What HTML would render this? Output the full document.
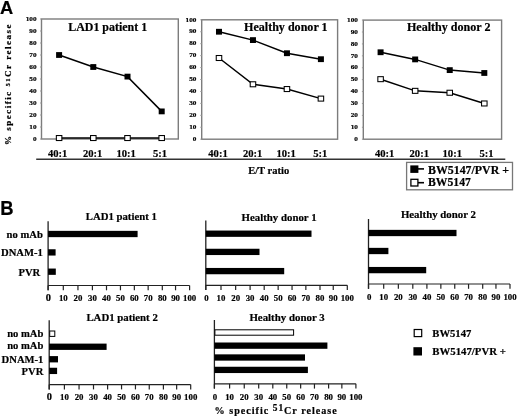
<!DOCTYPE html>
<html><head><meta charset="utf-8"><style>
html,body{margin:0;padding:0;background:#fff;}
svg{display:block;filter:blur(0.35px);}
text{font-family:"Liberation Serif",serif;font-weight:bold;fill:#000;stroke:#000;stroke-width:0.2px;}
.sans{font-family:"Liberation Sans",sans-serif;}
</style></head><body>
<svg width="520" height="417" viewBox="0 0 520 417">
<rect width="520" height="417" fill="#fff"/>
<text x="0.0" y="13.6" class="sans" font-size="19" textLength="13.2" lengthAdjust="spacingAndGlyphs">A</text>
<rect x="41.5" y="19.0" width="136.8" height="120.0" fill="none" stroke="#7c7c7c" stroke-width="1.4"/>
<line x1="40.1" y1="139.0" x2="41.5" y2="139.0" stroke="#999" stroke-width="1"/>
<text x="36.6" y="140.7" font-size="7.0" text-anchor="end" textLength="3.62" lengthAdjust="spacingAndGlyphs">0</text>
<line x1="40.1" y1="127.0" x2="41.5" y2="127.0" stroke="#999" stroke-width="1"/>
<text x="36.6" y="128.7" font-size="7.0" text-anchor="end" textLength="7.24" lengthAdjust="spacingAndGlyphs">10</text>
<line x1="40.1" y1="115.0" x2="41.5" y2="115.0" stroke="#999" stroke-width="1"/>
<text x="36.6" y="116.7" font-size="7.0" text-anchor="end" textLength="7.24" lengthAdjust="spacingAndGlyphs">20</text>
<line x1="40.1" y1="103.0" x2="41.5" y2="103.0" stroke="#999" stroke-width="1"/>
<text x="36.6" y="104.7" font-size="7.0" text-anchor="end" textLength="7.24" lengthAdjust="spacingAndGlyphs">30</text>
<line x1="40.1" y1="91.0" x2="41.5" y2="91.0" stroke="#999" stroke-width="1"/>
<text x="36.6" y="92.7" font-size="7.0" text-anchor="end" textLength="7.24" lengthAdjust="spacingAndGlyphs">40</text>
<line x1="40.1" y1="79.0" x2="41.5" y2="79.0" stroke="#999" stroke-width="1"/>
<text x="36.6" y="80.7" font-size="7.0" text-anchor="end" textLength="7.24" lengthAdjust="spacingAndGlyphs">50</text>
<line x1="40.1" y1="67.0" x2="41.5" y2="67.0" stroke="#999" stroke-width="1"/>
<text x="36.6" y="68.7" font-size="7.0" text-anchor="end" textLength="7.24" lengthAdjust="spacingAndGlyphs">60</text>
<line x1="40.1" y1="55.0" x2="41.5" y2="55.0" stroke="#999" stroke-width="1"/>
<text x="36.6" y="56.7" font-size="7.0" text-anchor="end" textLength="7.24" lengthAdjust="spacingAndGlyphs">70</text>
<line x1="40.1" y1="43.0" x2="41.5" y2="43.0" stroke="#999" stroke-width="1"/>
<text x="36.6" y="44.7" font-size="7.0" text-anchor="end" textLength="7.24" lengthAdjust="spacingAndGlyphs">80</text>
<line x1="40.1" y1="31.0" x2="41.5" y2="31.0" stroke="#999" stroke-width="1"/>
<text x="36.6" y="32.7" font-size="7.0" text-anchor="end" textLength="7.24" lengthAdjust="spacingAndGlyphs">90</text>
<line x1="40.1" y1="19.0" x2="41.5" y2="19.0" stroke="#999" stroke-width="1"/>
<text x="36.6" y="20.7" font-size="7.0" text-anchor="end" textLength="10.86" lengthAdjust="spacingAndGlyphs">100</text>
<text x="68.2" y="31.3" font-size="11.9" textLength="79" lengthAdjust="spacingAndGlyphs">LAD1 patient 1</text>
<polyline points="59.10,138.04 93.30,138.04 127.50,138.04 161.70,138.04" fill="none" stroke="#000" stroke-width="1.5"/>
<polyline points="59.10,55.00 93.30,67.00 127.50,76.60 161.70,111.40" fill="none" stroke="#000" stroke-width="1.5"/>
<rect x="56.35" y="135.54" width="5.5" height="5.0" fill="#fff" stroke="#000" stroke-width="1.05"/>
<rect x="90.55" y="135.54" width="5.5" height="5.0" fill="#fff" stroke="#000" stroke-width="1.05"/>
<rect x="124.75" y="135.54" width="5.5" height="5.0" fill="#fff" stroke="#000" stroke-width="1.05"/>
<rect x="158.95" y="135.54" width="5.5" height="5.0" fill="#fff" stroke="#000" stroke-width="1.05"/>
<rect x="56.1" y="52.1" width="6.0" height="5.8" fill="#000"/>
<rect x="90.3" y="64.1" width="6.0" height="5.8" fill="#000"/>
<rect x="124.5" y="73.7" width="6.0" height="5.8" fill="#000"/>
<rect x="158.7" y="108.5" width="6.0" height="5.8" fill="#000"/>
<text x="57.7" y="156.8" font-size="10.6" text-anchor="middle">40:1</text>
<text x="92.7" y="156.8" font-size="10.6" text-anchor="middle">20:1</text>
<text x="126.2" y="156.8" font-size="10.6" text-anchor="middle">10:1</text>
<text x="160.0" y="156.8" font-size="10.6" text-anchor="middle">5:1</text>
<rect x="201.7" y="19.8" width="135.9" height="119.4" fill="none" stroke="#7c7c7c" stroke-width="1.4"/>
<line x1="200.3" y1="139.2" x2="201.7" y2="139.2" stroke="#999" stroke-width="1"/>
<text x="196.5" y="140.9" font-size="7.0" text-anchor="end" textLength="3.62" lengthAdjust="spacingAndGlyphs">0</text>
<line x1="200.3" y1="127.26" x2="201.7" y2="127.26" stroke="#999" stroke-width="1"/>
<text x="196.5" y="128.96" font-size="7.0" text-anchor="end" textLength="7.24" lengthAdjust="spacingAndGlyphs">10</text>
<line x1="200.3" y1="115.32" x2="201.7" y2="115.32" stroke="#999" stroke-width="1"/>
<text x="196.5" y="117.02" font-size="7.0" text-anchor="end" textLength="7.24" lengthAdjust="spacingAndGlyphs">20</text>
<line x1="200.3" y1="103.38" x2="201.7" y2="103.38" stroke="#999" stroke-width="1"/>
<text x="196.5" y="105.08" font-size="7.0" text-anchor="end" textLength="7.24" lengthAdjust="spacingAndGlyphs">30</text>
<line x1="200.3" y1="91.44" x2="201.7" y2="91.44" stroke="#999" stroke-width="1"/>
<text x="196.5" y="93.14" font-size="7.0" text-anchor="end" textLength="7.24" lengthAdjust="spacingAndGlyphs">40</text>
<line x1="200.3" y1="79.5" x2="201.7" y2="79.5" stroke="#999" stroke-width="1"/>
<text x="196.5" y="81.2" font-size="7.0" text-anchor="end" textLength="7.24" lengthAdjust="spacingAndGlyphs">50</text>
<line x1="200.3" y1="67.56" x2="201.7" y2="67.56" stroke="#999" stroke-width="1"/>
<text x="196.5" y="69.26" font-size="7.0" text-anchor="end" textLength="7.24" lengthAdjust="spacingAndGlyphs">60</text>
<line x1="200.3" y1="55.62" x2="201.7" y2="55.62" stroke="#999" stroke-width="1"/>
<text x="196.5" y="57.32" font-size="7.0" text-anchor="end" textLength="7.24" lengthAdjust="spacingAndGlyphs">70</text>
<line x1="200.3" y1="43.68" x2="201.7" y2="43.68" stroke="#999" stroke-width="1"/>
<text x="196.5" y="45.38" font-size="7.0" text-anchor="end" textLength="7.24" lengthAdjust="spacingAndGlyphs">80</text>
<line x1="200.3" y1="31.74" x2="201.7" y2="31.74" stroke="#999" stroke-width="1"/>
<text x="196.5" y="33.44" font-size="7.0" text-anchor="end" textLength="7.24" lengthAdjust="spacingAndGlyphs">90</text>
<line x1="200.3" y1="19.8" x2="201.7" y2="19.8" stroke="#999" stroke-width="1"/>
<text x="196.5" y="21.5" font-size="7.0" text-anchor="end" textLength="10.86" lengthAdjust="spacingAndGlyphs">100</text>
<text x="244.0" y="31.4" font-size="11.9" textLength="83.6" lengthAdjust="spacingAndGlyphs">Healthy donor 1</text>
<polyline points="218.99,58.01 252.96,84.28 286.94,89.05 320.91,98.60" fill="none" stroke="#000" stroke-width="1.5"/>
<polyline points="218.99,31.74 252.96,40.10 286.94,53.23 320.91,59.20" fill="none" stroke="#000" stroke-width="1.5"/>
<rect x="216.24" y="55.51" width="5.5" height="5.0" fill="#fff" stroke="#000" stroke-width="1.05"/>
<rect x="250.21" y="81.78" width="5.5" height="5.0" fill="#fff" stroke="#000" stroke-width="1.05"/>
<rect x="284.19" y="86.55" width="5.5" height="5.0" fill="#fff" stroke="#000" stroke-width="1.05"/>
<rect x="318.16" y="96.1" width="5.5" height="5.0" fill="#fff" stroke="#000" stroke-width="1.05"/>
<rect x="215.99" y="28.84" width="6.0" height="5.8" fill="#000"/>
<rect x="249.96" y="37.2" width="6.0" height="5.8" fill="#000"/>
<rect x="283.94" y="50.33" width="6.0" height="5.8" fill="#000"/>
<rect x="317.91" y="56.3" width="6.0" height="5.8" fill="#000"/>
<text x="218.0" y="156.8" font-size="10.6" text-anchor="middle">40:1</text>
<text x="252.7" y="156.8" font-size="10.6" text-anchor="middle">20:1</text>
<text x="286.2" y="156.8" font-size="10.6" text-anchor="middle">10:1</text>
<text x="320.2" y="156.8" font-size="10.6" text-anchor="middle">5:1</text>
<rect x="363.3" y="20.1" width="138.3" height="119.1" fill="none" stroke="#7c7c7c" stroke-width="1.4"/>
<line x1="361.9" y1="139.2" x2="363.3" y2="139.2" stroke="#999" stroke-width="1"/>
<text x="358.0" y="140.9" font-size="7.0" text-anchor="end" textLength="3.62" lengthAdjust="spacingAndGlyphs">0</text>
<line x1="361.9" y1="127.29" x2="363.3" y2="127.29" stroke="#999" stroke-width="1"/>
<text x="358.0" y="128.99" font-size="7.0" text-anchor="end" textLength="7.24" lengthAdjust="spacingAndGlyphs">10</text>
<line x1="361.9" y1="115.38" x2="363.3" y2="115.38" stroke="#999" stroke-width="1"/>
<text x="358.0" y="117.08" font-size="7.0" text-anchor="end" textLength="7.24" lengthAdjust="spacingAndGlyphs">20</text>
<line x1="361.9" y1="103.47" x2="363.3" y2="103.47" stroke="#999" stroke-width="1"/>
<text x="358.0" y="105.17" font-size="7.0" text-anchor="end" textLength="7.24" lengthAdjust="spacingAndGlyphs">30</text>
<line x1="361.9" y1="91.56" x2="363.3" y2="91.56" stroke="#999" stroke-width="1"/>
<text x="358.0" y="93.26" font-size="7.0" text-anchor="end" textLength="7.24" lengthAdjust="spacingAndGlyphs">40</text>
<line x1="361.9" y1="79.65" x2="363.3" y2="79.65" stroke="#999" stroke-width="1"/>
<text x="358.0" y="81.35" font-size="7.0" text-anchor="end" textLength="7.24" lengthAdjust="spacingAndGlyphs">50</text>
<line x1="361.9" y1="67.74" x2="363.3" y2="67.74" stroke="#999" stroke-width="1"/>
<text x="358.0" y="69.44" font-size="7.0" text-anchor="end" textLength="7.24" lengthAdjust="spacingAndGlyphs">60</text>
<line x1="361.9" y1="55.83" x2="363.3" y2="55.83" stroke="#999" stroke-width="1"/>
<text x="358.0" y="57.53" font-size="7.0" text-anchor="end" textLength="7.24" lengthAdjust="spacingAndGlyphs">70</text>
<line x1="361.9" y1="43.92" x2="363.3" y2="43.92" stroke="#999" stroke-width="1"/>
<text x="358.0" y="45.62" font-size="7.0" text-anchor="end" textLength="7.24" lengthAdjust="spacingAndGlyphs">80</text>
<line x1="361.9" y1="32.01" x2="363.3" y2="32.01" stroke="#999" stroke-width="1"/>
<text x="358.0" y="33.71" font-size="7.0" text-anchor="end" textLength="7.24" lengthAdjust="spacingAndGlyphs">90</text>
<line x1="361.9" y1="20.1" x2="363.3" y2="20.1" stroke="#999" stroke-width="1"/>
<text x="358.0" y="21.8" font-size="7.0" text-anchor="end" textLength="10.86" lengthAdjust="spacingAndGlyphs">100</text>
<text x="406.9" y="30.8" font-size="11.9" textLength="83.6" lengthAdjust="spacingAndGlyphs">Healthy donor 2</text>
<polyline points="380.59,79.17 415.16,90.85 449.74,92.75 484.31,103.47" fill="none" stroke="#000" stroke-width="1.5"/>
<polyline points="380.59,52.26 415.16,59.40 449.74,70.12 484.31,72.98" fill="none" stroke="#000" stroke-width="1.5"/>
<rect x="377.84" y="76.67" width="5.5" height="5.0" fill="#fff" stroke="#000" stroke-width="1.05"/>
<rect x="412.41" y="88.35" width="5.5" height="5.0" fill="#fff" stroke="#000" stroke-width="1.05"/>
<rect x="446.99" y="90.25" width="5.5" height="5.0" fill="#fff" stroke="#000" stroke-width="1.05"/>
<rect x="481.56" y="100.97" width="5.5" height="5.0" fill="#fff" stroke="#000" stroke-width="1.05"/>
<rect x="377.59" y="49.36" width="6.0" height="5.8" fill="#000"/>
<rect x="412.16" y="56.5" width="6.0" height="5.8" fill="#000"/>
<rect x="446.74" y="67.22" width="6.0" height="5.8" fill="#000"/>
<rect x="481.31" y="70.08" width="6.0" height="5.8" fill="#000"/>
<text x="384.65" y="156.8" font-size="10.6" text-anchor="middle">40:1</text>
<text x="419.25" y="156.8" font-size="10.6" text-anchor="middle">20:1</text>
<text x="452.25" y="156.8" font-size="10.6" text-anchor="middle">10:1</text>
<text x="486.55" y="156.8" font-size="10.6" text-anchor="middle">5:1</text>
<line x1="36.2" y1="159.2" x2="505.3" y2="159.2" stroke="#333" stroke-width="1.35"/>
<text x="248.2" y="173.8" font-size="10.4" textLength="41" lengthAdjust="spacingAndGlyphs">E/T ratio</text>
<rect x="406.6" y="162.4" width="105.9" height="27.4" fill="none" stroke="#777" stroke-width="1.3"/>
<rect x="410.3" y="165.4" width="8.1" height="7.5" fill="#000"/>
<line x1="418" y1="168.9" x2="424" y2="168.9" stroke="#000" stroke-width="1.6"/>
<text x="428.0" y="173.6" font-size="11.6" textLength="81" lengthAdjust="spacingAndGlyphs">BW5147/PVR +</text>
<rect x="410.9" y="179.3" width="7.0" height="6.7" fill="#fff" stroke="#000" stroke-width="1.3"/>
<line x1="418" y1="182.7" x2="424" y2="182.7" stroke="#000" stroke-width="1.6"/>
<text x="428.0" y="186.3" font-size="11.6" textLength="42.8" lengthAdjust="spacingAndGlyphs">BW5147</text>
<text transform="translate(10.9,145.0) rotate(-90)" font-size="9.0" letter-spacing="1.5">% specific <tspan font-size="6.6" dy="-1.3">51</tspan><tspan dy="1.3">Cr release</tspan></text>
<text x="0.2" y="214.9" class="sans" font-size="19.6" textLength="13.3" lengthAdjust="spacingAndGlyphs">B</text>
<line x1="48.1" y1="221.2" x2="48.1" y2="290.3" stroke="#222" stroke-width="1.3"/>
<line x1="48.1" y1="285.5" x2="189.6" y2="285.5" stroke="#222" stroke-width="1.2"/>
<line x1="48.1" y1="285.5" x2="48.1" y2="290.3" stroke="#222" stroke-width="1.2"/>
<text x="48.3" y="301.0" font-size="10.4" text-anchor="middle">0</text>
<line x1="63.3" y1="285.5" x2="63.3" y2="290.3" stroke="#222" stroke-width="1.2"/>
<text x="63.3" y="301.2" font-size="8.8" text-anchor="middle">10</text>
<line x1="77.95" y1="285.5" x2="77.95" y2="290.3" stroke="#222" stroke-width="1.2"/>
<text x="77.95" y="301.2" font-size="8.8" text-anchor="middle">20</text>
<line x1="92.4" y1="285.5" x2="92.4" y2="290.3" stroke="#222" stroke-width="1.2"/>
<text x="92.4" y="301.2" font-size="8.8" text-anchor="middle">30</text>
<line x1="106.5" y1="285.5" x2="106.5" y2="290.3" stroke="#222" stroke-width="1.2"/>
<text x="106.5" y="301.2" font-size="8.8" text-anchor="middle">40</text>
<line x1="120.45" y1="285.5" x2="120.45" y2="290.3" stroke="#222" stroke-width="1.2"/>
<text x="120.45" y="301.2" font-size="8.8" text-anchor="middle">50</text>
<line x1="134.35" y1="285.5" x2="134.35" y2="290.3" stroke="#222" stroke-width="1.2"/>
<text x="134.35" y="301.2" font-size="8.8" text-anchor="middle">60</text>
<line x1="148.15" y1="285.5" x2="148.15" y2="290.3" stroke="#222" stroke-width="1.2"/>
<text x="148.15" y="301.2" font-size="8.8" text-anchor="middle">70</text>
<line x1="162.3" y1="285.5" x2="162.3" y2="290.3" stroke="#222" stroke-width="1.2"/>
<text x="162.3" y="301.2" font-size="8.8" text-anchor="middle">80</text>
<line x1="175.55" y1="285.5" x2="175.55" y2="290.3" stroke="#222" stroke-width="1.2"/>
<text x="175.55" y="301.2" font-size="8.8" text-anchor="middle">90</text>
<line x1="189.6" y1="285.5" x2="189.6" y2="290.3" stroke="#222" stroke-width="1.2"/>
<text x="189.6" y="301.2" font-size="8.8" text-anchor="middle">100</text>
<text x="85.8" y="220.0" font-size="11.0" textLength="71" lengthAdjust="spacingAndGlyphs">LAD1 patient 1</text>
<rect x="48.1" y="230.85" width="89.5" height="6.3" fill="#000"/>
<rect x="48.1" y="249.25" width="7.5" height="6.3" fill="#000"/>
<rect x="48.1" y="268.55" width="7.7" height="6.3" fill="#000"/>
<text x="42.8" y="237.6" font-size="10.6" text-anchor="end">no mAb</text>
<text x="42.8" y="256.3" font-size="10.6" text-anchor="end">DNAM-1</text>
<text x="40.2" y="275.7" font-size="10.6" text-anchor="end">PVR</text>
<line x1="205.8" y1="220.4" x2="205.8" y2="290.1" stroke="#222" stroke-width="1.3"/>
<line x1="205.8" y1="285.3" x2="347.3" y2="285.3" stroke="#222" stroke-width="1.2"/>
<line x1="205.8" y1="285.3" x2="205.8" y2="290.1" stroke="#222" stroke-width="1.2"/>
<text x="206.4" y="301.0" font-size="8.8" text-anchor="middle">0</text>
<line x1="221.0" y1="285.3" x2="221.0" y2="290.1" stroke="#222" stroke-width="1.2"/>
<text x="221.0" y="301.0" font-size="8.8" text-anchor="middle">10</text>
<line x1="235.65" y1="285.3" x2="235.65" y2="290.1" stroke="#222" stroke-width="1.2"/>
<text x="235.65" y="301.0" font-size="8.8" text-anchor="middle">20</text>
<line x1="250.1" y1="285.3" x2="250.1" y2="290.1" stroke="#222" stroke-width="1.2"/>
<text x="250.1" y="301.0" font-size="8.8" text-anchor="middle">30</text>
<line x1="264.2" y1="285.3" x2="264.2" y2="290.1" stroke="#222" stroke-width="1.2"/>
<text x="264.2" y="301.0" font-size="8.8" text-anchor="middle">40</text>
<line x1="278.15" y1="285.3" x2="278.15" y2="290.1" stroke="#222" stroke-width="1.2"/>
<text x="278.15" y="301.0" font-size="8.8" text-anchor="middle">50</text>
<line x1="292.05" y1="285.3" x2="292.05" y2="290.1" stroke="#222" stroke-width="1.2"/>
<text x="292.05" y="301.0" font-size="8.8" text-anchor="middle">60</text>
<line x1="305.85" y1="285.3" x2="305.85" y2="290.1" stroke="#222" stroke-width="1.2"/>
<text x="305.85" y="301.0" font-size="8.8" text-anchor="middle">70</text>
<line x1="320.0" y1="285.3" x2="320.0" y2="290.1" stroke="#222" stroke-width="1.2"/>
<text x="320.0" y="301.0" font-size="8.8" text-anchor="middle">80</text>
<line x1="333.25" y1="285.3" x2="333.25" y2="290.1" stroke="#222" stroke-width="1.2"/>
<text x="333.25" y="301.0" font-size="8.8" text-anchor="middle">90</text>
<line x1="347.3" y1="285.3" x2="347.3" y2="290.1" stroke="#222" stroke-width="1.2"/>
<text x="347.3" y="301.0" font-size="8.8" text-anchor="middle">100</text>
<text x="241.6" y="220.6" font-size="11.0" textLength="75" lengthAdjust="spacingAndGlyphs">Healthy donor 1</text>
<rect x="205.8" y="230.55" width="105.7" height="6.3" fill="#000"/>
<rect x="205.8" y="248.75" width="53.7" height="6.3" fill="#000"/>
<rect x="205.8" y="267.95" width="78.4" height="6.3" fill="#000"/>
<line x1="368.5" y1="219.0" x2="368.5" y2="288.8" stroke="#222" stroke-width="1.3"/>
<line x1="368.5" y1="284.0" x2="510.0" y2="284.0" stroke="#222" stroke-width="1.2"/>
<line x1="368.5" y1="284.0" x2="368.5" y2="288.8" stroke="#222" stroke-width="1.2"/>
<text x="369.1" y="299.7" font-size="8.8" text-anchor="middle">0</text>
<line x1="383.7" y1="284.0" x2="383.7" y2="288.8" stroke="#222" stroke-width="1.2"/>
<text x="383.7" y="299.7" font-size="8.8" text-anchor="middle">10</text>
<line x1="398.35" y1="284.0" x2="398.35" y2="288.8" stroke="#222" stroke-width="1.2"/>
<text x="398.35" y="299.7" font-size="8.8" text-anchor="middle">20</text>
<line x1="412.8" y1="284.0" x2="412.8" y2="288.8" stroke="#222" stroke-width="1.2"/>
<text x="412.8" y="299.7" font-size="8.8" text-anchor="middle">30</text>
<line x1="426.9" y1="284.0" x2="426.9" y2="288.8" stroke="#222" stroke-width="1.2"/>
<text x="426.9" y="299.7" font-size="8.8" text-anchor="middle">40</text>
<line x1="440.85" y1="284.0" x2="440.85" y2="288.8" stroke="#222" stroke-width="1.2"/>
<text x="440.85" y="299.7" font-size="8.8" text-anchor="middle">50</text>
<line x1="454.75" y1="284.0" x2="454.75" y2="288.8" stroke="#222" stroke-width="1.2"/>
<text x="454.75" y="299.7" font-size="8.8" text-anchor="middle">60</text>
<line x1="468.55" y1="284.0" x2="468.55" y2="288.8" stroke="#222" stroke-width="1.2"/>
<text x="468.55" y="299.7" font-size="8.8" text-anchor="middle">70</text>
<line x1="482.7" y1="284.0" x2="482.7" y2="288.8" stroke="#222" stroke-width="1.2"/>
<text x="482.7" y="299.7" font-size="8.8" text-anchor="middle">80</text>
<line x1="495.95" y1="284.0" x2="495.95" y2="288.8" stroke="#222" stroke-width="1.2"/>
<text x="495.95" y="299.7" font-size="8.8" text-anchor="middle">90</text>
<line x1="510.0" y1="284.0" x2="510.0" y2="288.8" stroke="#222" stroke-width="1.2"/>
<text x="510.0" y="299.7" font-size="8.8" text-anchor="middle">100</text>
<text x="400.9" y="218.3" font-size="11.0" textLength="75" lengthAdjust="spacingAndGlyphs">Healthy donor 2</text>
<rect x="368.5" y="229.85" width="88.0" height="6.3" fill="#000"/>
<rect x="368.5" y="247.85" width="19.9" height="6.3" fill="#000"/>
<rect x="368.5" y="266.95" width="57.7" height="6.3" fill="#000"/>
<line x1="49.2" y1="320.2" x2="49.2" y2="389.4" stroke="#222" stroke-width="1.3"/>
<line x1="49.2" y1="384.6" x2="190.7" y2="384.6" stroke="#222" stroke-width="1.2"/>
<line x1="49.2" y1="384.6" x2="49.2" y2="389.4" stroke="#222" stroke-width="1.2"/>
<text x="49.4" y="400.1" font-size="10.4" text-anchor="middle">0</text>
<line x1="64.4" y1="384.6" x2="64.4" y2="389.4" stroke="#222" stroke-width="1.2"/>
<text x="64.4" y="400.3" font-size="8.8" text-anchor="middle">10</text>
<line x1="79.05" y1="384.6" x2="79.05" y2="389.4" stroke="#222" stroke-width="1.2"/>
<text x="79.05" y="400.3" font-size="8.8" text-anchor="middle">20</text>
<line x1="93.5" y1="384.6" x2="93.5" y2="389.4" stroke="#222" stroke-width="1.2"/>
<text x="93.5" y="400.3" font-size="8.8" text-anchor="middle">30</text>
<line x1="107.6" y1="384.6" x2="107.6" y2="389.4" stroke="#222" stroke-width="1.2"/>
<text x="107.6" y="400.3" font-size="8.8" text-anchor="middle">40</text>
<line x1="121.55" y1="384.6" x2="121.55" y2="389.4" stroke="#222" stroke-width="1.2"/>
<text x="121.55" y="400.3" font-size="8.8" text-anchor="middle">50</text>
<line x1="135.45" y1="384.6" x2="135.45" y2="389.4" stroke="#222" stroke-width="1.2"/>
<text x="135.45" y="400.3" font-size="8.8" text-anchor="middle">60</text>
<line x1="149.25" y1="384.6" x2="149.25" y2="389.4" stroke="#222" stroke-width="1.2"/>
<text x="149.25" y="400.3" font-size="8.8" text-anchor="middle">70</text>
<line x1="163.4" y1="384.6" x2="163.4" y2="389.4" stroke="#222" stroke-width="1.2"/>
<text x="163.4" y="400.3" font-size="8.8" text-anchor="middle">80</text>
<line x1="176.65" y1="384.6" x2="176.65" y2="389.4" stroke="#222" stroke-width="1.2"/>
<text x="176.65" y="400.3" font-size="8.8" text-anchor="middle">90</text>
<line x1="190.7" y1="384.6" x2="190.7" y2="389.4" stroke="#222" stroke-width="1.2"/>
<text x="190.7" y="400.3" font-size="8.8" text-anchor="middle">100</text>
<text x="86.4" y="320.6" font-size="11.0" textLength="71.4" lengthAdjust="spacingAndGlyphs">LAD1 patient 2</text>
<rect x="49.7" y="331.0" width="5.1" height="5.4" fill="#fff" stroke="#000" stroke-width="1"/>
<rect x="49.2" y="343.6" width="57.4" height="6.3" fill="#000"/>
<rect x="49.2" y="356.1" width="8.8" height="6.3" fill="#000"/>
<rect x="49.2" y="367.75" width="7.9" height="6.3" fill="#000"/>
<text x="43.4" y="337.4" font-size="10.6" text-anchor="end">no mAb</text>
<text x="43.4" y="349.4" font-size="10.6" text-anchor="end">no mAb</text>
<text x="43.4" y="363.0" font-size="10.6" text-anchor="end">DNAM-1</text>
<text x="43.4" y="374.9" font-size="10.6" text-anchor="end">PVR</text>
<line x1="214.4" y1="320.0" x2="214.4" y2="388.6" stroke="#222" stroke-width="1.3"/>
<line x1="214.4" y1="383.8" x2="355.9" y2="383.8" stroke="#222" stroke-width="1.2"/>
<line x1="214.4" y1="383.8" x2="214.4" y2="388.6" stroke="#222" stroke-width="1.2"/>
<text x="215.0" y="399.5" font-size="8.8" text-anchor="middle">0</text>
<line x1="229.6" y1="383.8" x2="229.6" y2="388.6" stroke="#222" stroke-width="1.2"/>
<text x="229.6" y="399.5" font-size="8.8" text-anchor="middle">10</text>
<line x1="244.25" y1="383.8" x2="244.25" y2="388.6" stroke="#222" stroke-width="1.2"/>
<text x="244.25" y="399.5" font-size="8.8" text-anchor="middle">20</text>
<line x1="258.7" y1="383.8" x2="258.7" y2="388.6" stroke="#222" stroke-width="1.2"/>
<text x="258.7" y="399.5" font-size="8.8" text-anchor="middle">30</text>
<line x1="272.8" y1="383.8" x2="272.8" y2="388.6" stroke="#222" stroke-width="1.2"/>
<text x="272.8" y="399.5" font-size="8.8" text-anchor="middle">40</text>
<line x1="286.75" y1="383.8" x2="286.75" y2="388.6" stroke="#222" stroke-width="1.2"/>
<text x="286.75" y="399.5" font-size="8.8" text-anchor="middle">50</text>
<line x1="300.65" y1="383.8" x2="300.65" y2="388.6" stroke="#222" stroke-width="1.2"/>
<text x="300.65" y="399.5" font-size="8.8" text-anchor="middle">60</text>
<line x1="314.45" y1="383.8" x2="314.45" y2="388.6" stroke="#222" stroke-width="1.2"/>
<text x="314.45" y="399.5" font-size="8.8" text-anchor="middle">70</text>
<line x1="328.6" y1="383.8" x2="328.6" y2="388.6" stroke="#222" stroke-width="1.2"/>
<text x="328.6" y="399.5" font-size="8.8" text-anchor="middle">80</text>
<line x1="341.85" y1="383.8" x2="341.85" y2="388.6" stroke="#222" stroke-width="1.2"/>
<text x="341.85" y="399.5" font-size="8.8" text-anchor="middle">90</text>
<line x1="355.9" y1="383.8" x2="355.9" y2="388.6" stroke="#222" stroke-width="1.2"/>
<text x="355.9" y="399.5" font-size="8.8" text-anchor="middle">100</text>
<text x="249.4" y="320.6" font-size="11.0" textLength="75.3" lengthAdjust="spacingAndGlyphs">Healthy donor 3</text>
<rect x="214.9" y="329.8" width="78.7" height="5.4" fill="#fff" stroke="#000" stroke-width="1"/>
<rect x="214.4" y="342.5" width="113.0" height="6.3" fill="#000"/>
<rect x="214.4" y="354.35" width="90.6" height="6.3" fill="#000"/>
<rect x="214.4" y="366.75" width="93.5" height="6.3" fill="#000"/>
<rect x="414.2" y="329.5" width="7.5" height="7.1" fill="#fff" stroke="#000" stroke-width="1.2"/>
<text x="432.3" y="337.3" font-size="10.6" textLength="39" lengthAdjust="spacingAndGlyphs">BW5147</text>
<rect x="413.4" y="347.2" width="8.6" height="8.3" fill="#000"/>
<text x="432.3" y="354.8" font-size="10.6" textLength="73.5" lengthAdjust="spacingAndGlyphs">BW5147/PVR +</text>
<text x="214.6" y="414.3" font-size="10.1" letter-spacing="1.0">% specific <tspan font-size="9.4" dy="-3.3">51</tspan><tspan dy="3.3">Cr release</tspan></text>
</svg>
</body></html>
